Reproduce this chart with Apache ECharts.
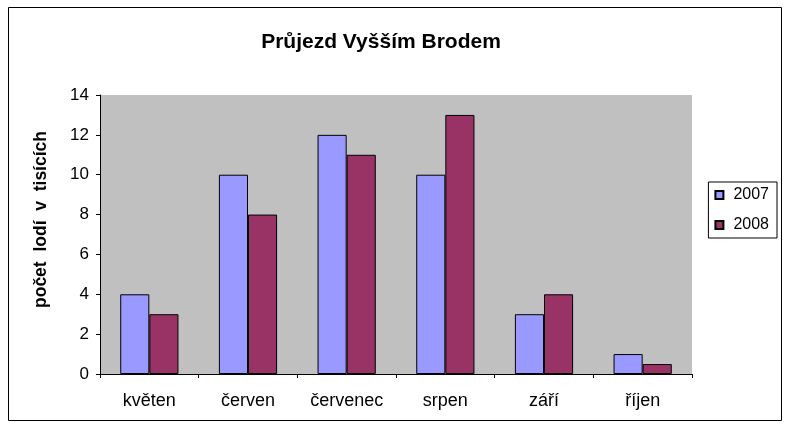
<!DOCTYPE html>
<html><head><meta charset="utf-8">
<script src="https://cdn.jsdelivr.net/npm/echarts@6/dist/echarts.min.js"></script>
<style>html,body{margin:0;padding:0;background:#fff}#c{width:789px;height:428px}</style>
</head><body><div id="c"></div>
<script>
const categories = ['květen', 'červen', 'červenec', 'srpen', 'září', 'říjen'];
const values2007 = [4, 10, 12, 10, 3, 1];
const values2008 = [3, 8, 11, 13, 4, 0.5];
const seriesNames = ['2007', '2008'];
const yTicks = { min: 0, max: 14, interval: 2 };

const font = '"Liberation Sans", Arial, sans-serif';
const chart = echarts.init(document.getElementById('c'), null, { renderer: 'canvas' });
chart.setOption({
  animation: false,
  backgroundColor: '#fff',
  title: {
    text: 'Průjezd Vyšším Brodem',
    left: 381, top: 32, textAlign: 'center', padding: 0,
    textStyle: { fontFamily: font, fontSize: 21, fontWeight: 'bold', color: '#000' }
  },
  graphic: [{
    type: 'rect', silent: true, z: -1,
    shape: { x: 8.5, y: 7.5, width: 773, height: 413 },
    style: { fill: 'none', stroke: '#000', lineWidth: 1 }
  }],
  legend: {
    orient: 'vertical', right: 12, top: 182,
    padding: [5, 8, 5, 6], itemGap: 14,
    borderColor: '#000', borderWidth: 1,
    itemWidth: 8, itemHeight: 8, icon: 'rect',
    textStyle: { fontFamily: font, fontSize: 16, color: '#000', padding: [0, 0, 0, 5] },
    data: seriesNames
  },
  grid: { left: 100, right: 97, top: 95, bottom: 54, show: true, backgroundColor: '#C0C0C0', borderWidth: 0 },
  xAxis: {
    type: 'category', data: categories,
    axisLine: { lineStyle: { color: '#000', width: 1 } },
    axisTick: { show: true, length: 4, inside: false, lineStyle: { color: '#000' } },
    axisLabel: { fontFamily: font, fontSize: 18, color: '#000', margin: 18 }
  },
  yAxis: {
    type: 'value', min: yTicks.min, max: yTicks.max, interval: yTicks.interval,
    name: 'počet  lodí  v  tisících', nameLocation: 'middle', nameGap: 50, nameRotate: 90,
    nameTextStyle: { fontFamily: font, fontSize: 17.5, fontWeight: 'bold', color: '#000', padding: [0, 0, 0, 30] },
    axisLine: { show: true, lineStyle: { color: '#000', width: 1 } },
    axisTick: { show: true, length: 4, lineStyle: { color: '#000' } },
    splitLine: { show: false },
    axisLabel: { fontFamily: font, fontSize: 17, color: '#000', margin: 11 }
  },
  series: [
    { name: seriesNames[0], type: 'bar', data: values2007, barGap: '0%', barCategoryGap: '41%',
      itemStyle: { color: '#9999FF', borderColor: '#000', borderWidth: 1 } },
    { name: seriesNames[1], type: 'bar', data: values2008, barGap: '0%', barCategoryGap: '41%',
      itemStyle: { color: '#993366', borderColor: '#000', borderWidth: 1 } }
  ]
});
</script></body></html>
